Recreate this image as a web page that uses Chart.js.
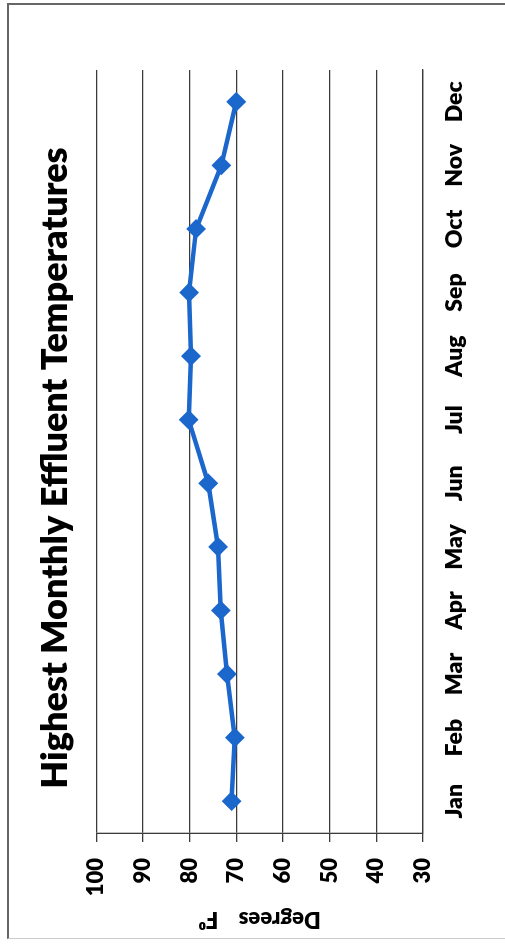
<!DOCTYPE html>
<html>
<head>
<meta charset="utf-8">
<script src="https://cdn.jsdelivr.net/npm/chart.js@4/dist/chart.umd.min.js"></script>
<style>
  html, body { margin: 0; padding: 0; background: #fff; }
  body { width: 505px; height: 946px; position: relative; overflow: hidden; }
  /* page frame */
  .frame {
    position: absolute; left: 7px; top: 3px; width: 520px; height: 936px;
    border-top: 2px solid #666; border-left: 2px solid #666;
    border-bottom: 1px solid #ccc; box-sizing: border-box;
  }
  /* chart is laid out landscape and turned a quarter turn counter-clockwise */
  .turn {
    position: absolute; left: 0; top: 0; width: 946px; height: 505px;
    transform-origin: top left;
    transform: translateY(946px) rotate(-90deg);
  }
  canvas { display: block; }
</style>
</head>
<body>
<div class="frame"></div>
<div class="turn"><canvas id="c" width="946" height="505"></canvas></div>
<script>
const months = ['Jan','Feb','Mar','Apr','May','Jun','Jul','Aug','Sep','Oct','Nov','Dec'];
const highestTemps = [71.0, 70.3, 72.0, 73.3, 73.9, 76.0, 80.2, 79.7, 80.1, 78.6, 73.2, 70.0];
const tempTicks = [30, 40, 50, 60, 70, 80, 90, 100];

const FONT = 'Lato, "Open Sans", sans-serif';
const lineBlue = '#1b67cc';

// centre the title over the whole sheet rather than the padded layout area
const titleSpan = {
  id: 'titleSpan',
  afterLayout(chart) {
    const t = chart.titleBlock;
    if (t) { t.left = 10; t.right = 946; t.width = t.right - t.left; }
  }
};

new Chart(document.getElementById('c'), {
  type: 'line',
  plugins: [titleSpan],
  data: {
    labels: months,
    datasets: [{
      data: highestTemps,
      borderColor: lineBlue,
      backgroundColor: lineBlue,
      borderWidth: 4.5,
      pointStyle: 'rectRot',
      pointRadius: 8.5,
      pointBorderWidth: 2,
      pointBorderColor: lineBlue,
      pointBackgroundColor: lineBlue,
      tension: 0,
      fill: false
    }]
  },
  options: {
    responsive: false,
    animation: false,
    devicePixelRatio: 1,
    layout: { padding: { left: 4, right: 70, top: 0, bottom: 0 } },
    plugins: {
      legend: { display: false },
      tooltip: { enabled: false },
      title: {
        display: true,
        text: 'Highest Monthly Effluent Temperatures',
        color: '#000',
        font: { family: FONT, size: 36, weight: 800 },
        padding: { top: 34, bottom: 19 }
      }
    },
    scales: {
      x: {
        offset: true,
        grid: { display: false, drawTicks: false },
        border: { display: true, color: '#3a3a3a', width: 1.3 },
        ticks: {
          color: '#000', padding: 18, maxRotation: 0, autoSkip: false,
          font: { family: FONT, size: 23, weight: 800 }
        },
        afterFit: s => { s.height = 82; }
      },
      y: {
        min: 30, max: 100,
        afterBuildTicks: s => { s.ticks = tempTicks.map(v => ({ value: v })); },
        grid: { color: '#3a3a3a', lineWidth: 1.3, drawTicks: true, tickLength: 9, tickColor: '#3a3a3a' },
        border: { display: true, color: '#3a3a3a', width: 1.3 },
        ticks: {
          color: '#000', padding: 16,
          font: { family: FONT, size: 22, weight: 800 }
        },
        title: {
          display: true,
          text: 'Degrees    F\u2070',
          color: '#000',
          padding: { top: 10, bottom: 0 },
          font: { family: FONT, size: 22, weight: 800 }
        },
        afterFit: s => { s.width = 109; }
      }
    }
  }
});
</script>
</body>
</html>
